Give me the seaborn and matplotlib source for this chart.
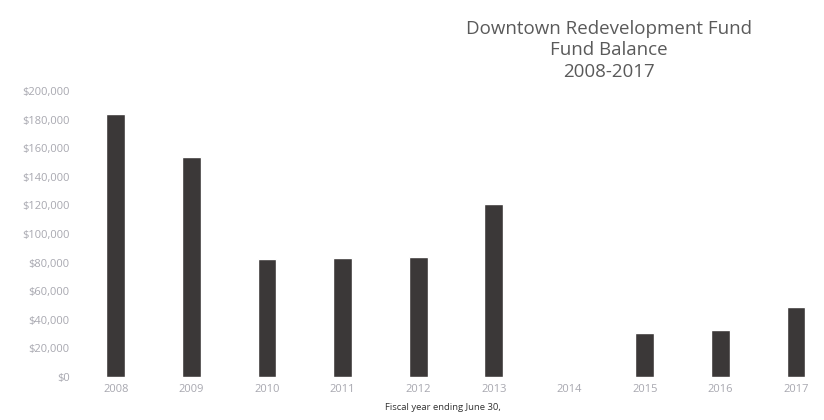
import matplotlib
matplotlib.use("Agg")
import matplotlib.pyplot as plt
import seaborn as sns
import pandas as pd
from matplotlib.ticker import FuncFormatter

years = ["2008", "2009", "2010", "2011", "2012", "2013", "2014", "2015", "2016", "2017"]
balance = [184000, 154000, 82700, 83000, 83700, 121000, 0, 31000, 32900, 49200]

sns.set_theme(style="white")
plt.rcParams['font.family'] = ['Open Sans', 'DejaVu Sans']

df = pd.DataFrame({"year": years, "balance": balance})

fig = plt.figure(figsize=(8.24, 4.2), dpi=100)
ax = fig.add_axes([78/824, 43/420, 746/824, 286/420])
sns.barplot(data=df, x="year", y="balance", color="#3b3838", saturation=1,
            width=0.25, ax=ax)
ax.set_ylim(0, 200000)
ax.set_xlim(-0.5, 9.37)
ax.set_yticks(range(0, 200001, 20000))
ax.yaxis.set_major_formatter(FuncFormatter(lambda v, p: "${:,.0f}".format(v)))
for s in ax.spines.values():
    s.set_visible(False)
ax.tick_params(axis="both", length=0, labelsize=8, colors="#a8a8b0", pad=5)
ax.tick_params(axis="y", pad=6)
ax.set_xlabel("")
ax.set_ylabel("")
fig.text(443/824, 1 - 408/420, "Fiscal year ending June 30,", ha="center", va="center",
         fontsize=6.8, color="#333333")
title_kw = dict(ha="center", va="center", fontsize=13.5, color="#5a5a5a")
fig.text(609/824, 1 - 29/420, "Downtown Redevelopment Fund", **title_kw)
fig.text(609/824, 1 - 50/420, "Fund Balance", **title_kw)
fig.text(609/824, 1 - 72/420, "2008-2017", **title_kw)
fig.savefig("out.png", dpi=100)
